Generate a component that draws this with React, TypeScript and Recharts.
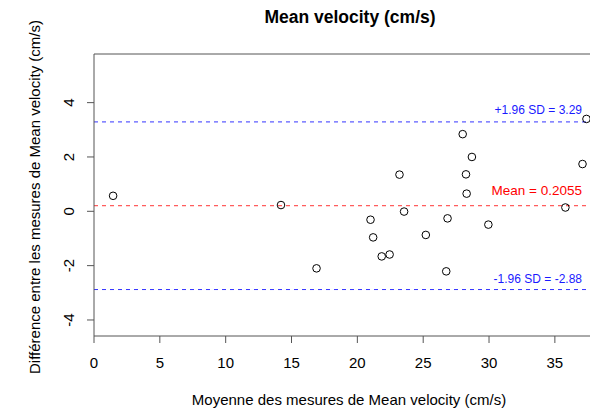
import {
  ScatterChart,
  Scatter,
  XAxis,
  YAxis,
  ReferenceLine,
} from "recharts";

// Moyenne des deux mesures (cm/s)
const meanValues = [
  1.45, 14.2, 16.9, 21.0, 21.2, 21.85, 22.45, 23.2, 23.55, 25.2,
  26.75, 26.85, 28.0, 28.25, 28.3, 28.7, 29.95, 35.8, 37.1, 37.4,
];
// Différence entre les deux mesures (cm/s)
const diffValues = [
  0.57, 0.23, -2.1, -0.31, -0.96, -1.66, -1.59, 1.35, -0.01, -0.87,
  -2.21, -0.26, 2.84, 1.36, 0.65, 2.0, -0.49, 0.14, 1.74, 3.4,
];
const xTicks = [0, 5, 10, 15, 20, 25, 30, 35];
const yTicks = [-4, -2, 0, 2, 4];
const meanDiff = 0.2055;
const upperLoA = 3.29;
const lowerLoA = -2.88;

const points = meanValues.map((x, i) => ({ x, y: diffValues[i] }));

const font = "'Liberation Sans', Arial, Helvetica, sans-serif";
const yMax = 5.79;
const yMin = -4.59;

const YTick = (props: any) => {
  const { x, y, payload } = props;
  const tx = x - 11;
  return (
    <text
      x={tx}
      y={y}
      transform={`rotate(-90 ${tx} ${y})`}
      textAnchor="middle"
      fontSize={15}
      fontFamily={font}
      fill="#000"
    >
      {payload.value}
    </text>
  );
};

const lineLabel = (text: string, color: string, size: number, dy: number) =>
  (props: any) => {
    const vb = props.viewBox;
    return (
      <text
        x={vb.x + vb.width - 15}
        y={vb.y - dy}
        textAnchor="end"
        fontSize={size}
        fontFamily={font}
        fill={color}
      >
        {text}
      </text>
    );
  };

const Ring = (props: any) => (
  <circle cx={props.cx} cy={props.cy} r={3.8} fill="none" stroke="#000" strokeWidth={1} />
);

export default function App() {
  return (
    <div
      style={{
        position: "absolute",
        left: 0,
        top: 0,
        width: 590,
        height: 408,
        overflow: "hidden",
        background: "#fff",
        fontFamily: font,
      }}
    >
      <div
        style={{
          position: "absolute",
          left: 0,
          width: 700,
          top: 7,
          textAlign: "center",
          fontSize: 17.5,
          fontWeight: "bold",
        }}
      >
        Mean velocity (cm/s)
      </div>
      <ScatterChart
        width={600}
        height={408}
        margin={{ top: 54, right: 3, bottom: 0, left: 0 }}
      >
        <XAxis
          type="number"
          dataKey="x"
          domain={[0, 38.2]}
          ticks={xTicks}
          allowDataOverflow
          height={72}
          tickSize={7}
          tickMargin={14}
          stroke="#555"
          tick={{ fontSize: 15, fill: "#000", fontFamily: font }}
          label={{
            content: () => (
              <text x={349} y={405} textAnchor="middle" fontSize={15} fontFamily={font} fill="#000">
                Moyenne des mesures de Mean velocity (cm/s)
              </text>
            ),
          }}
        />
        <YAxis
          type="number"
          dataKey="y"
          domain={[yMin, yMax]}
          ticks={yTicks}
          allowDataOverflow
          width={94}
          tickSize={7}
          stroke="#555"
          tick={<YTick />}
          label={{
            content: () => (
              <text
                x={40}
                y={197}
                transform="rotate(-90 40 197)"
                textAnchor="middle"
                fontSize={15}
                fontFamily={font}
                fill="#000"
              >
                Différence entre les mesures de Mean velocity (cm/s)
              </text>
            ),
          }}
        />
        <ReferenceLine key="top" y={yMax} stroke="#555" ifOverflow="visible" />
        <ReferenceLine
          key="upper"
          y={upperLoA}
          stroke="blue"
          strokeOpacity={0.8}
          strokeDasharray="4 4"
          ifOverflow="visible"
          label={{ content: lineLabel("+1.96 SD = 3.29", "#1a1aff", 12, 8) }}
        />
        <ReferenceLine
          key="mean"
          y={meanDiff}
          stroke="red"
          strokeOpacity={0.8}
          strokeDasharray="4 4"
          ifOverflow="visible"
          label={{ content: lineLabel("Mean = 0.2055", "#ff0000", 13.5, 11) }}
        />
        <ReferenceLine
          key="lower"
          y={lowerLoA}
          stroke="blue"
          strokeOpacity={0.8}
          strokeDasharray="4 4"
          ifOverflow="visible"
          label={{ content: lineLabel("-1.96 SD = -2.88", "#1a1aff", 12, 7) }}
        />
        <Scatter data={points} shape={<Ring />} isAnimationActive={false} />
      </ScatterChart>
    </div>
  );
}
